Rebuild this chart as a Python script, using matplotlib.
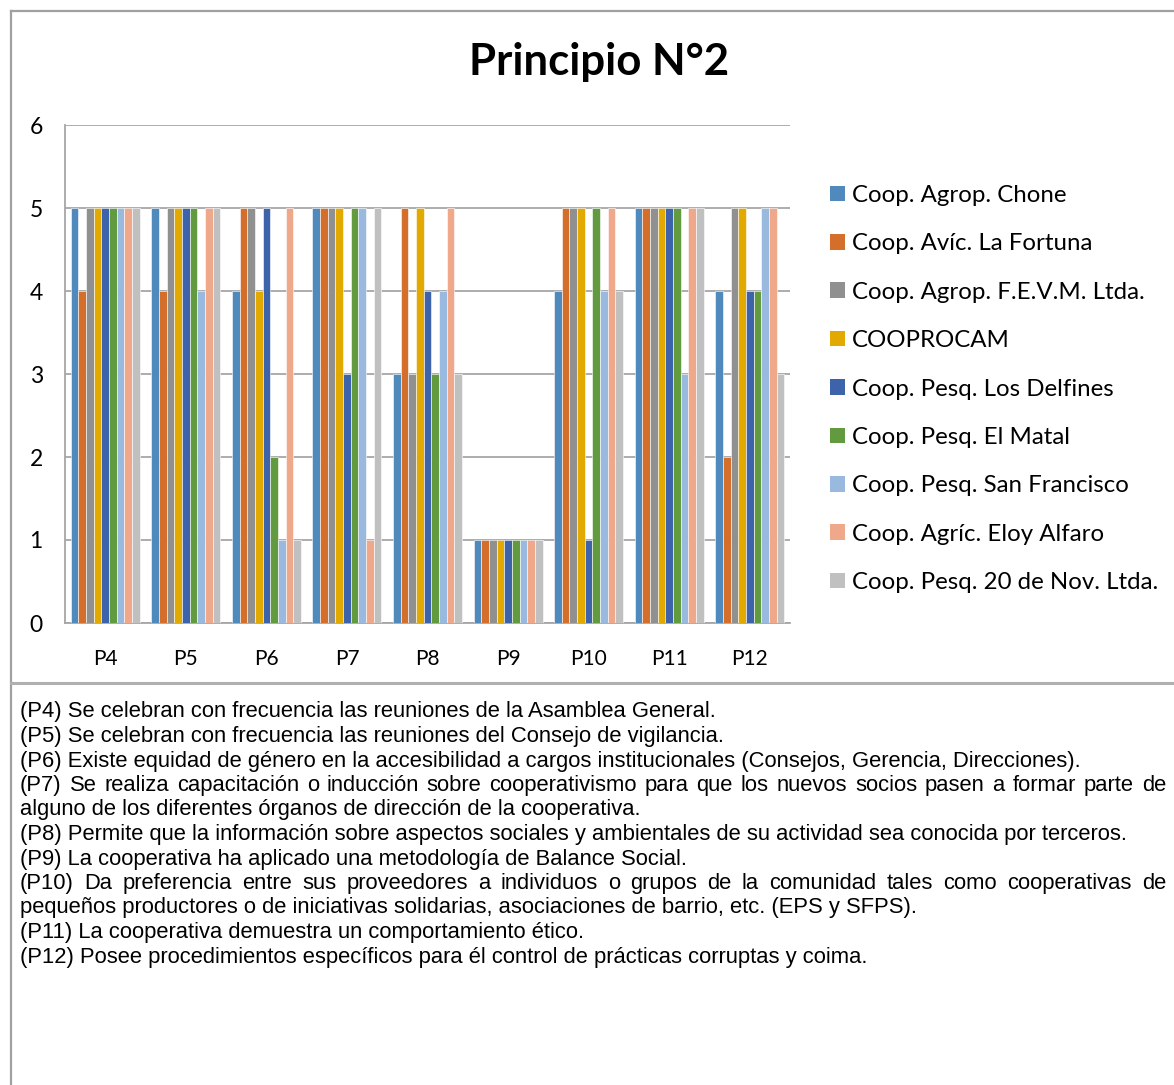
import matplotlib
matplotlib.use("Agg")
import matplotlib.pyplot as plt
import numpy as np
from matplotlib import font_manager
from matplotlib.lines import Line2D
from matplotlib.patches import Patch

# ---------------- data ----------------
categories = ["P4", "P5", "P6", "P7", "P8", "P9", "P10", "P11", "P12"]
series_names = [
    "Coop. Agrop. Chone",
    "Coop. Avíc. La Fortuna",
    "Coop. Agrop. F.E.V.M. Ltda.",
    "COOPROCAM",
    "Coop. Pesq. Los Delfines",
    "Coop. Pesq. El Matal",
    "Coop. Pesq. San Francisco",
    "Coop. Agríc. Eloy Alfaro",
    "Coop. Pesq. 20 de Nov. Ltda.",
]
chone      = [5, 5, 4, 5, 3, 1, 4, 5, 4]
fortuna    = [4, 4, 5, 5, 5, 1, 5, 5, 2]
fevm       = [5, 5, 5, 5, 3, 1, 5, 5, 5]
cooprocam  = [5, 5, 4, 5, 5, 1, 5, 5, 5]
delfines   = [5, 5, 5, 3, 4, 1, 1, 5, 4]
matal      = [5, 5, 2, 5, 3, 1, 5, 5, 4]
sanfran    = [5, 4, 1, 5, 4, 1, 4, 3, 5]
eloy       = [5, 5, 5, 1, 5, 1, 5, 5, 5]
nov20      = [5, 5, 1, 5, 3, 1, 4, 5, 3]
series_values = [chone, fortuna, fevm, cooprocam, delfines, matal, sanfran, eloy, nov20]
colors = ["#508ABD", "#D46E2B", "#909090", "#E2AA00", "#3D64AA",
          "#629A40", "#9AB9DE", "#F0A88A", "#C0C0C0"]

title = "Principio N°2"
notes = [
    ("(P4) Se celebran con frecuencia las reuniones de la Asamblea General.", False),
    ("(P5) Se celebran con frecuencia las reuniones del Consejo de vigilancia.", False),
    ("(P6) Existe equidad de género en la accesibilidad a cargos institucionales (Consejos, Gerencia, Direcciones).", False),
    ("(P7) Se realiza capacitación o inducción sobre cooperativismo para que los nuevos socios pasen a formar parte de", True),
    ("alguno de los diferentes órganos de dirección de la cooperativa.", False),
    ("(P8) Permite que la información sobre aspectos sociales y ambientales de su actividad sea conocida por terceros.", False),
    ("(P9) La cooperativa ha aplicado una metodología de Balance Social.", False),
    ("(P10) Da preferencia entre sus proveedores a individuos o grupos de la comunidad tales como cooperativas de", True),
    ("pequeños productores o de iniciativas solidarias, asociaciones de barrio, etc. (EPS y SFPS).", False),
    ("(P11) La cooperativa demuestra un comportamiento ético.", False),
    ("(P12) Posee procedimientos específicos para él control de prácticas corruptas y coima.", False),
]

# ---------------- fonts ----------------
names = {f.name for f in font_manager.fontManager.ttflist}
chart_font = "Lato" if "Lato" in names else "DejaVu Sans"
narrow_font = None
for cand in ["Liberation Sans Narrow", "Arial Narrow", "Liberation Sans"]:
    if cand in names:
        narrow_font = cand
        break
if narrow_font is None:
    narrow_font = "DejaVu Sans"

W, H = 1174, 1085
fig = plt.figure(figsize=(W / 100, H / 100), dpi=100)
fig.patch.set_facecolor("white")

def fx(px):
    return px / W

def fy(py):
    return 1 - py / H

# ---------------- chart ----------------
ax = fig.add_axes([fx(65), fy(623), fx(790) - fx(65), fy(125) - fy(623)])
n = len(series_names)
x = np.arange(len(categories))
gap = 1.5
bw = 1.0 / (n + gap)
for i, (name, vals, c) in enumerate(zip(series_names, series_values, colors)):
    offs = (i - (n - 1) / 2) * bw
    ax.bar(x + offs, vals, width=bw, color=c, label=name,
           edgecolor="white", linewidth=0.4, zorder=3)

ax.set_xlim(-0.5, len(categories) - 0.5)
ax.set_ylim(0, 6)
ax.set_yticks(range(0, 7))
ax.set_xticks(x)
ax.set_xticklabels(categories, fontsize=15, fontname=chart_font)
ax.set_yticklabels([str(v) for v in range(7)], fontsize=16.5, fontname=chart_font)
ax.tick_params(axis="both", length=0)
ax.tick_params(axis="x", pad=19)
ax.tick_params(axis="y", pad=16)
ax.grid(axis="y", color="#A6A6A6", linewidth=1.3, zorder=0)
for s in ["top", "right"]:
    ax.spines[s].set_visible(False)
for s in ["left", "bottom"]:
    ax.spines[s].set_color("#A6A6A6")
    ax.spines[s].set_linewidth(1.3)

# title
fig.text(fx(599), fy(62), title, ha="center", va="center",
         fontsize=31.5, fontweight="bold", fontname=chart_font)

# legend
handles = [Patch(facecolor=c, edgecolor="none") for c in colors]
leg = fig.legend(handles, series_names, loc="center left",
                 bbox_to_anchor=(fx(830), fy(389)), bbox_transform=fig.transFigure,
                 frameon=False, prop={"family": chart_font, "size": 17.3},
                 handlelength=0.62, handleheight=0.62, handletextpad=0.3,
                 labelspacing=1.14, borderpad=0, borderaxespad=0)

# ---------------- frame lines ----------------
border_c = "#A0A0A0"
fig.add_artist(Line2D([fx(11), 1], [fy(11), fy(11)], color=border_c, lw=1.6, transform=fig.transFigure))
fig.add_artist(Line2D([fx(11), fx(11)], [fy(11), 0], color=border_c, lw=1.6, transform=fig.transFigure))
fig.add_artist(Line2D([fx(11), 1], [fy(683), fy(683)], color="#B0B0B0", lw=2.2, transform=fig.transFigure))

# ---------------- notes ----------------
renderer = fig.canvas.get_renderer()
note_size = 14.0
left_px, right_px = 20, 1166
y0, dy = 712, 24.5

# fit font size so the first note spans ~703 px
probe = fig.text(0, 0, notes[0][0], fontsize=note_size, family=narrow_font)
wpx = probe.get_window_extent(renderer).width
probe.remove()
note_size = note_size * 703.0 / wpx

for k, (line, justify) in enumerate(notes):
    ypx = y0 + k * dy
    if not justify:
        fig.text(fx(left_px), fy(ypx), line, ha="left", va="center",
                 fontsize=note_size, family=narrow_font)
    else:
        words = line.split(" ")
        widths = []
        for w in words:
            t = fig.text(0, 0, w, fontsize=note_size, family=narrow_font)
            widths.append(t.get_window_extent(renderer).width)
            t.remove()
        space = (right_px - left_px - sum(widths)) / (len(words) - 1)
        cur = left_px
        for w, wd in zip(words, widths):
            fig.text(fx(cur), fy(ypx), w, ha="left", va="center",
                     fontsize=note_size, family=narrow_font)
            cur += wd + space

fig.savefig("out.png", dpi=100, facecolor="white")
